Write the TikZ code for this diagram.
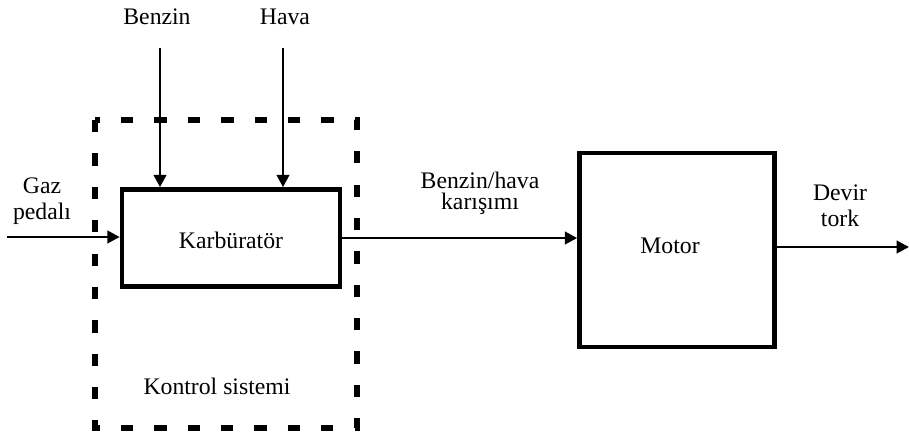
\documentclass[tikz,border=0pt]{standalone}
\usepackage{fontspec}
\setmainfont{Liberation Serif}
\usepackage{tikz}
\usetikzlibrary{arrows.meta}

\begin{document}
\begin{tikzpicture}[
          x=0.02cm, y=-0.02cm,
          every node/.style={font=\fontsize{13.5}{15}\selectfont, align=center, inner sep=0pt},
          blockbox/.style={draw, line width=2.6pt, fill=white},
          flow/.style={line width=1.6pt, -{Triangle[length=7pt, width=7pt]}},
          ctrlframe/.style={line width=3pt, dash pattern=on 7pt off 12pt}
        ]
        \useasboundingbox (0,0) rectangle (909,436);
        % control system frame
        \draw[ctrlframe] (95,120) rectangle (357,428);
        \node (ctrl) at (217,386) {Kontrol sistemi};
        % blocks
        \node[blockbox, minimum width=4.36cm, minimum height=1.94cm] (karb) at (231,238) {};
        \node (karbtext) at (231,240) {Karbüratör};
        \node[blockbox, minimum width=3.9cm, minimum height=3.88cm] (motor) at (677,250) {};
        \node (motortext) at (670,246) {Motor};
        % inputs and outputs
        \coordinate (benzinin) at (160,48);
        \coordinate (havain) at (283,48);
        \coordinate (gazin) at (7,237);
        \coordinate (cikis) at (909,247);
        \node (benzin) at (157,17) {Benzin};
        \node (hava) at (285,17) {Hava};
        \node (gaz) at (42,201) {Gaz\\pedalı};
        \node (karisim) at (480,193) {Benzin/hava\\[-3pt]karışımı};
        \node (devir) at (840,206) {Devir\\tork};
        \draw[flow] (benzinin) -- (benzinin |- karb.north);
        \draw[flow] (havain) -- (havain |- karb.north);
        \draw[flow] (gazin) -- (gazin -| karb.west);
        \draw[flow] (karb.east |- 0,238) -- (motor.west |- 0,238);
        \draw[flow] (motor.east |- cikis) -- (cikis);
      \end{tikzpicture}
\end{document}
